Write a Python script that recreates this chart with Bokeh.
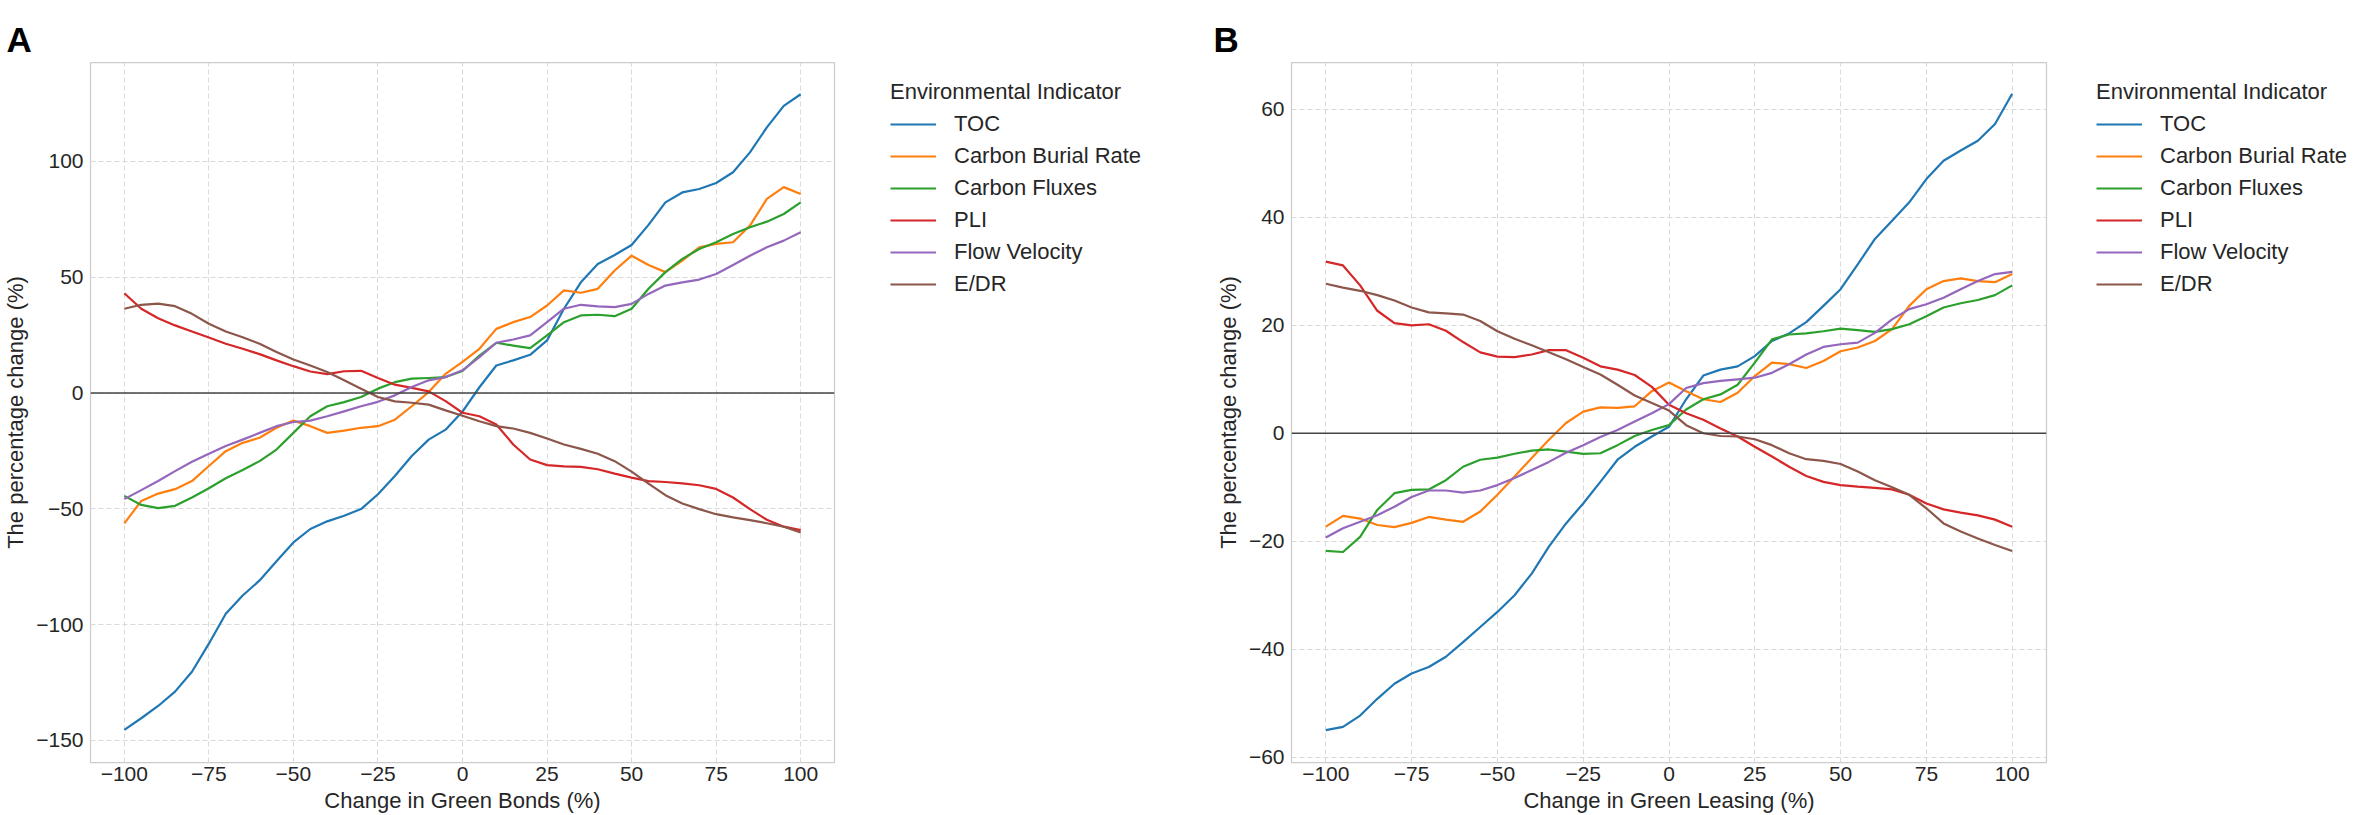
from bokeh.plotting import figure
from bokeh.layouts import row, column
from bokeh.models import Legend, LegendItem, Span, FixedTicker, Range1d
from bokeh.embed import file_html
from bokeh.resources import INLINE

# ---------------- data ----------------
x_values = list(range(-100, 105, 5))
x_ticks = [-100, -75, -50, -25, 0, 25, 50, 75, 100]
indicators = ["TOC", "Carbon Burial Rate", "Carbon Fluxes", "PLI", "Flow Velocity", "E/DR"]
colors = ["#1f77b4", "#ff7f0e", "#2ca02c", "#d62728", "#9467bd", "#8c564b"]

# Panel A: Change in Green Bonds
a_toc = [-145.4, -140.4, -135.1, -128.9, -120.3, -108.2, -95.3, -87.4, -80.9, -72.6,
         -64.5, -58.7, -55.4, -53.0, -50.1, -43.7, -35.8, -27.2, -20.1, -15.8,
         -8.0, 2.5, 11.9, 14.1, 16.5, 22.7, 36.4, 47.8, 55.7, 59.6,
         63.9, 72.6, 82.3, 86.6, 88.1, 90.7, 95.3, 103.9, 114.7, 124.0, 129.0]
a_cbr = [-56.3, -46.6, -43.4, -41.5, -38.0, -31.5, -25.1, -21.5, -19.3, -15.0,
         -11.9, -14.3, -17.2, -16.2, -15.0, -14.3, -11.5, -5.7, 0.4, 8.3,
         13.5, 19.1, 27.7, 30.6, 32.8, 37.8, 44.3, 43.3, 45.0, 52.9,
         59.3, 55.3, 52.2, 57.2, 62.9, 64.4, 65.1, 72.3, 83.8, 88.9, 85.9]
a_cf = [-44.4, -48.3, -49.7, -48.7, -45.1, -41.1, -36.8, -33.2, -29.4, -24.4,
        -17.2, -10.0, -5.7, -3.9, -1.7, 1.9, 4.7, 6.2, 6.5, 6.9,
        9.5, 16.2, 21.7, 20.5, 19.4, 24.9, 30.6, 33.5, 33.8, 33.2,
        36.4, 45.0, 52.2, 57.9, 62.2, 65.1, 68.7, 71.6, 74.0, 77.3, 82.3]
a_pli = [43.1, 36.4, 32.3, 29.2, 26.6, 24.0, 21.3, 19.1, 16.8, 14.1,
         11.6, 9.3, 8.2, 9.4, 9.6, 6.5, 3.6, 2.2, 0.7, -3.5,
         -8.5, -10.0, -13.6, -22.2, -28.7, -31.1, -31.7, -31.9, -32.9, -34.8,
         -36.5, -38.0, -38.4, -39.0, -39.8, -41.4, -45.1, -50.1, -54.7, -57.7, -59.2]
a_fv = [-45.8, -41.9, -38.0, -33.7, -29.7, -26.2, -22.9, -20.1, -17.2, -14.3,
        -12.5, -11.9, -10.0, -7.9, -5.7, -3.8, -1.0, 2.6, 5.5, 6.9,
        9.8, 15.5, 21.7, 23.1, 24.9, 30.6, 36.4, 38.1, 37.4, 37.1,
        38.5, 42.8, 46.4, 47.8, 49.0, 51.4, 55.3, 59.3, 62.9, 65.8, 69.4]
a_edr = [36.4, 38.1, 38.6, 37.5, 34.2, 29.9, 26.6, 24.1, 21.3, 17.7,
         14.5, 11.9, 9.1, 5.5, 1.9, -1.7, -3.6, -4.2, -5.0, -7.5,
         -9.8, -12.2, -14.3, -15.3, -17.2, -19.6, -22.2, -24.1, -26.2, -29.4,
         -33.9, -39.1, -44.1, -47.7, -50.1, -52.3, -53.7, -54.9, -56.2, -57.7, -60.2]
a_yticks = [-150, -100, -50, 0, 50, 100]

# Panel B: Change in Green Leasing
b_toc = [-55.0, -54.4, -52.3, -49.2, -46.4, -44.5, -43.3, -41.4, -38.7, -35.9,
         -33.1, -30.0, -26.0, -21.0, -16.7, -13.0, -9.0, -4.9, -2.5, -0.6,
         1.2, 6.3, 10.7, 11.8, 12.4, 14.3, 17.1, 18.5, 20.6, 23.6,
         26.7, 31.3, 36.0, 39.4, 42.8, 47.1, 50.5, 52.4, 54.2, 57.3, 62.9]
b_cbr = [-17.3, -15.3, -15.8, -17.0, -17.4, -16.6, -15.5, -16.0, -16.4, -14.5,
         -11.4, -8.0, -4.6, -1.2, 1.9, 4.0, 4.8, 4.7, 5.0, 7.8,
         9.4, 7.8, 6.3, 5.8, 7.5, 10.6, 13.1, 12.8, 12.1, 13.4,
         15.2, 15.9, 17.1, 19.3, 23.6, 26.7, 28.2, 28.7, 28.2, 28.0, 29.5]
b_cf = [-21.8, -22.0, -19.2, -14.2, -11.1, -10.5, -10.4, -8.7, -6.2, -4.9,
        -4.5, -3.8, -3.2, -3.0, -3.4, -3.8, -3.7, -2.2, -0.5, 0.6,
        1.5, 4.4, 6.3, 7.2, 9.0, 13.1, 17.4, 18.3, 18.5, 18.9,
        19.4, 19.1, 18.8, 19.3, 20.2, 21.7, 23.3, 24.1, 24.7, 25.6, 27.4]
b_pli = [31.8, 31.1, 27.4, 22.7, 20.4, 20.0, 20.2, 19.0, 16.9, 15.0,
         14.2, 14.1, 14.6, 15.4, 15.4, 14.0, 12.4, 11.8, 10.8, 8.6,
         5.3, 3.7, 2.5, 0.9, -0.6, -2.5, -4.3, -6.2, -7.9, -9.0,
         -9.6, -9.9, -10.1, -10.4, -11.4, -13.0, -14.1, -14.7, -15.2, -16.0, -17.3]
b_fv = [-19.3, -17.6, -16.4, -15.2, -13.6, -11.8, -10.6, -10.6, -11.0, -10.6,
        -9.6, -8.3, -6.8, -5.3, -3.6, -2.2, -0.7, 0.6, 2.2, 3.7,
        5.4, 8.4, 9.3, 9.7, 10.0, 10.3, 11.2, 12.8, 14.6, 16.0,
        16.5, 16.8, 18.6, 21.1, 23.0, 23.9, 25.1, 26.7, 28.2, 29.5, 29.9]
b_edr = [27.7, 27.0, 26.4, 25.6, 24.6, 23.3, 22.4, 22.2, 22.0, 20.8,
         18.9, 17.5, 16.3, 15.0, 13.7, 12.3, 10.9, 9.0, 7.0, 5.6,
         4.2, 1.5, 0.0, -0.5, -0.6, -1.1, -2.2, -3.7, -4.8, -5.1,
         -5.7, -7.1, -8.7, -10.0, -11.4, -13.9, -16.7, -18.2, -19.5, -20.7, -21.8]
b_yticks = [-60, -40, -20, 0, 20, 40, 60]

# ---------------- style ----------------
FONT = "Liberation Sans"
TXT = "#262626"
BT = 62         # plot top border
FH = 700        # frame height
BR = 4          # plot right border
LEG_FIG_H = 360


def fmt(v):
    return ("\u2212" + str(abs(v))) if v < 0 else str(v)


def legend_fig(width, leg_x, series):
    # legend-only figure; its lines lie far outside the visible ranges
    f = figure(width=width, height=LEG_FIG_H,
               x_range=Range1d(1000, 1001), y_range=Range1d(1000, 1001),
               min_border=0, x_axis_location=None, y_axis_location=None,
               title_location=None, output_backend="svg", toolbar_location=None)
    f.grid.visible = False
    f.outline_line_color = None
    f.background_fill_color = "white"
    f.border_fill_color = "white"
    items = []
    for name, ys, c in zip(indicators, series, colors):
        r = f.line(x_values, ys, line_color=c, line_width=2.2)
        items.append(LegendItem(label=name, renderers=[r]))
    leg = Legend(items=items, location=(leg_x, LEG_FIG_H - 300),
                 title="Environmental Indicator",
                 title_text_font=FONT, title_text_font_size="22px",
                 title_text_font_style="normal", title_text_color=TXT,
                 title_standoff=3,
                 label_text_font=FONT, label_text_font_size="22px",
                 label_text_color=TXT,
                 glyph_width=46, glyph_height=32, label_height=32,
                 label_standoff=18, spacing=0, padding=8, margin=0,
                 border_line_color=None, background_fill_alpha=0)
    f.add_layout(leg)
    return f


def build_panel(xlabel, series, yrange, yticks, fw, bl, letter, letter_off):
    p = figure(frame_width=fw, frame_height=FH,
               x_range=Range1d(-110, 110), y_range=Range1d(*yrange),
               min_border_left=bl, min_border_right=BR,
               min_border_top=BT, min_border_bottom=0,
               output_backend="svg", toolbar_location=None)
    p.background_fill_color = "white"
    p.border_fill_color = "white"
    p.outline_line_color = "#cccccc"
    p.outline_line_width = 1.25

    p.title.text = letter
    p.title.align = "left"
    p.title.vertical_align = "top"
    p.title.offset = letter_off
    p.title.text_font = FONT
    p.title.text_font_size = "35px"
    p.title.text_font_style = "bold"
    p.title.text_color = "black"
    p.title.text_line_height = 1.6
    p.title.standoff = 4

    p.xaxis.ticker = FixedTicker(ticks=x_ticks)
    p.yaxis.ticker = FixedTicker(ticks=yticks)
    p.xaxis.major_label_overrides = {t: fmt(t) for t in x_ticks}
    p.yaxis.major_label_overrides = {t: fmt(t) for t in yticks}
    p.xaxis.axis_label = xlabel
    p.yaxis.axis_label = "The percentage change (%)"
    for ax in (p.xaxis[0], p.yaxis[0]):
        ax.axis_line_color = None
        ax.major_tick_line_color = None
        ax.minor_tick_line_color = None
        ax.major_tick_out = 0
        ax.major_label_text_font = FONT
        ax.major_label_text_font_size = "21px"
        ax.major_label_text_color = TXT
        ax.axis_label_text_font = FONT
        ax.axis_label_text_font_size = "22px"
        ax.axis_label_text_font_style = "normal"
        ax.axis_label_text_color = TXT
    p.xaxis.major_label_standoff = 4
    p.xaxis.axis_label_standoff = 4
    p.yaxis.major_label_standoff = 7
    p.yaxis.axis_label_standoff = 5

    for g in (p.xgrid[0], p.ygrid[0]):
        g.grid_line_color = "#d9d9d9"
        g.grid_line_dash = "5 3"
        g.grid_line_width = 1

    p.add_layout(Span(location=0, dimension="width", line_color="#444444",
                      line_width=1.6))

    for ys, c in zip(series, colors):
        p.line(x_values, ys, line_color=c, line_width=2.2, line_join="round")
    return p


A_BL, A_FW = 84, 744
B_BL, B_FW = 114, 755
a_w = A_BL + A_FW + BR            # page 8..840
b_w = B_BL + B_FW + BR
leg_a_w = 1179 - (8 + a_w)        # page 840..1179
leg_b_w = 2342 - a_w - leg_a_w - b_w

series_a = [a_toc, a_cbr, a_cf, a_pli, a_fv, a_edr]
series_b = [b_toc, b_cbr, b_cf, b_pli, b_fv, b_edr]

pa = build_panel("Change in Green Bonds (%)", series_a,
                 (-159.5, 142.7), a_yticks, A_FW, A_BL, "A", -84)
pb = build_panel("Change in Green Leasing (%)", series_b,
                 (-61.0, 68.7), b_yticks, B_FW, B_BL, "B", -78)

layout = row(
    column(pa),
    column(legend_fig(leg_a_w, 52, series_a)),
    column(pb),
    column(legend_fig(leg_b_w, 46, series_b)),
)
open("out.html", "w").write(file_html(layout, INLINE))
